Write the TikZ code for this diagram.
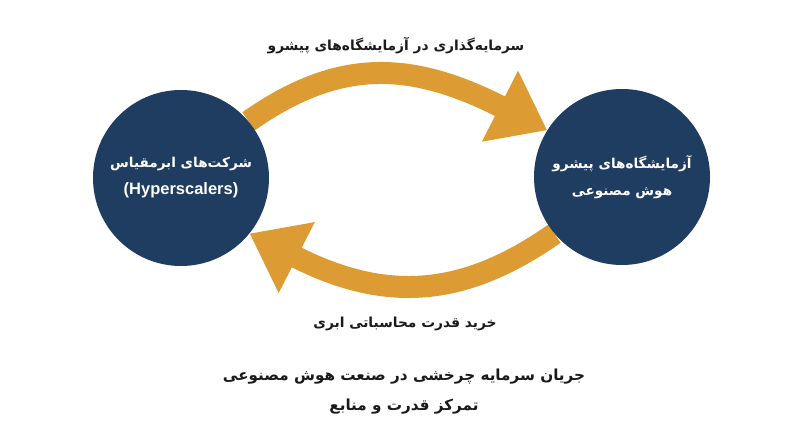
\documentclass[tikz,border=0pt]{standalone}
\usepackage{fontspec}
\usetikzlibrary{arrows.meta,positioning,backgrounds}
\TeXXeTstate=1
\newfontfamily\farsifont[Script=Arabic]{DejaVu Sans}
\newfontfamily\latinfont{Liberation Sans}
\definecolor{hubblue}{HTML}{1F3C61}
\definecolor{flowgold}{HTML}{DD9B33}
\definecolor{inktext}{HTML}{1A1A1A}

\begin{document}
\begin{tikzpicture}[x=1pt,y=1pt,
	hub/.style={circle,fill=hubblue,minimum size=176pt,inner sep=0pt,text=white,align=center,font=\bfseries\fontsize{13.6}{27}\selectfont},
	flow/.style={draw=flowgold,line width=22pt,-{Triangle[length=53pt,width=76pt]}},
	caption/.style={text=inktext,align=center,font=\farsifont\bfseries\fontsize{13.8}{22}\selectfont}]
	 \useasboundingbox (0,0) rectangle (800,447);
	 \node[hub] (qH) at (181,269) {{\farsifont\beginR شرکت^^^^200cهای ابرمقیاس\endR}\\{\latinfont\fontsize{16.5}{27}\selectfont (Hyperscalers)}};
	 \node[hub] (qL) at (622,270) {{\farsifont\beginR آزمایشگاه^^^^200cهای پیشرو\endR}\\{\farsifont\beginR هوش مصنوعی\endR}};

	 \node[caption] (tInv) at (396,401) {\beginR سرمایه^^^^200cگذاری در آزمایشگاه^^^^200cهای پیشرو\endR};
	 \node[caption] (tBuy) at (405,123) {\beginR خرید قدرت محاسباتی ابری\endR};
	 \node[caption,font=\farsifont\bfseries\fontsize{15.2}{30}\selectfont] (tTitle) at (404,55)
	 {\beginR جریان سرمایه چرخشی در صنعت هوش مصنوعی\endR\\\beginR تمرکز قدرت و منابع\endR};

	 \begin{scope}[on background layer]
	 \path
	 (qH.40) edge [flow,out=35,in=153,out distance=110pt,in distance=154pt] (qL.148)
	 (qL.220) edge [flow,out=215,in=333,out distance=110pt,in distance=154pt] (qH.321)
	 ;
	 \end{scope}
\end{tikzpicture}
\end{document}
